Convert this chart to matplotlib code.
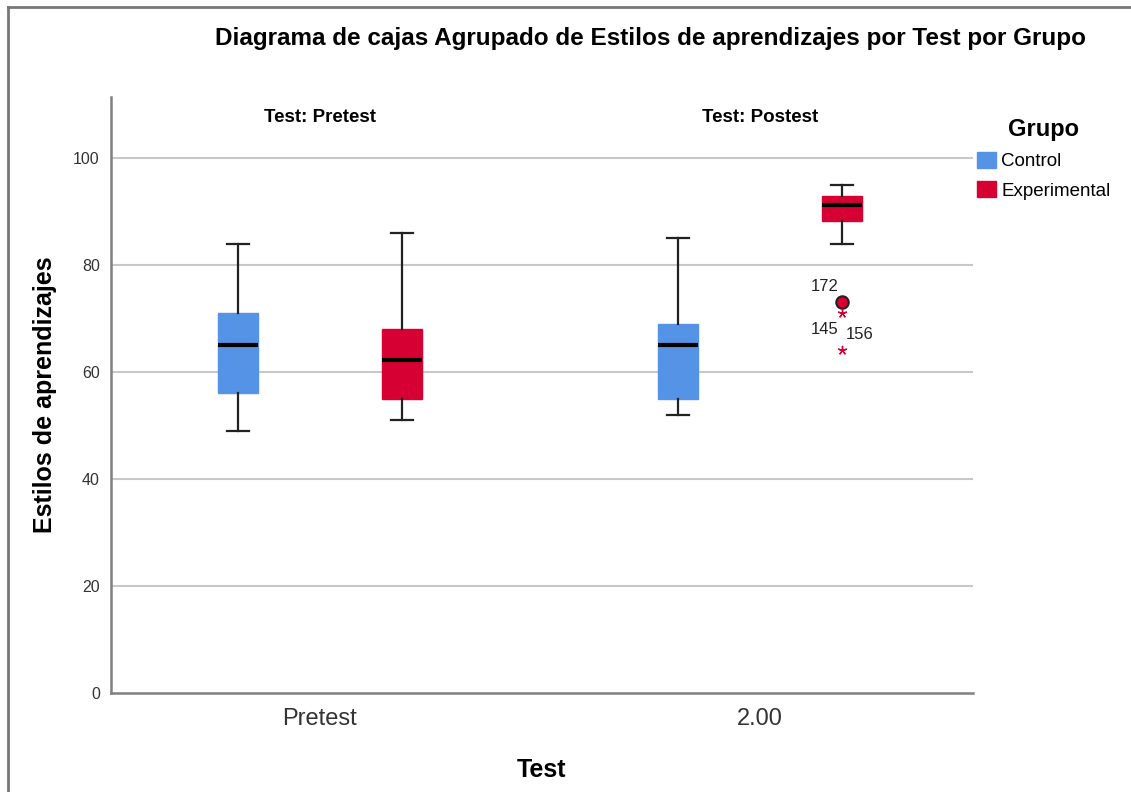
import matplotlib.pyplot as plt
from matplotlib.patches import Patch
from matplotlib.lines import Line2D

plt.rcParams['font.family'] = ['Liberation Sans', 'DejaVu Sans']

# ---------------- DATA ----------------
tests = ["Pretest", "2.00"]
facet_labels = ["Test: Pretest", "Test: Postest"]
groups = ["Control", "Experimental"]
colors = ["#5593E6", "#D60032"]

# [pretest, postest] for each group
whislo = {"Control": [49, 52], "Experimental": [51, 84]}
q1 = {"Control": [56, 55], "Experimental": [55, 88.2]}
med = {"Control": [65, 65], "Experimental": [62.2, 91.2]}
q3 = {"Control": [71, 69], "Experimental": [68, 92.9]}
whishi = {"Control": [84, 85], "Experimental": [86, 95]}

# outliers (experimental, postest)
out_circle = [73.1]
out_circle_ids = ["172"]
out_star = [71, 64.1]
out_star_ids = ["145", "156"]

yticks = [0, 20, 40, 60, 80, 100]

# ---------------- PLOT ----------------
fig = plt.figure(figsize=(11.31, 7.92), dpi=100)
ax = fig.add_axes([0.0981, 0.125, 0.762, 0.7525])

offset = 0.187
width = 0.091
for gi, g in enumerate(groups):
    stats = []
    for ti in range(len(tests)):
        stats.append({"whislo": whislo[g][ti], "q1": q1[g][ti], "med": med[g][ti],
                      "q3": q3[g][ti], "whishi": whishi[g][ti], "fliers": []})
    pos = [ti + (offset if gi else -offset) for ti in range(len(tests))]
    ax.bxp(stats, positions=pos, widths=width, patch_artist=True, showfliers=False,
           boxprops=dict(facecolor=colors[gi], edgecolor=colors[gi], linewidth=1),
           medianprops=dict(color="black", linewidth=3),
           whiskerprops=dict(color="#222222", linewidth=1.6),
           capprops=dict(color="#222222", linewidth=1.6),
           capwidths=width * 0.55, zorder=3)

xo = 1 + offset
ax.scatter([xo] * len(out_circle), out_circle, s=80, facecolor=colors[1],
           edgecolor="#222222", linewidth=1.5, zorder=4)
ax.scatter([xo] * len(out_star), out_star, s=35, marker=(5, 2, 0),
           color=colors[1], linewidth=1.0, zorder=4)
ax.text(xo - 0.04, out_circle[0] + 1.5, out_circle_ids[0], fontsize=12,
        ha="center", va="bottom", color="#222222")
ax.text(xo - 0.04, out_star[0] - 3.0, out_star_ids[0], fontsize=12,
        ha="center", va="center", color="#222222")
ax.text(xo + 0.04, out_star[0] - 4.0, out_star_ids[1], fontsize=12,
        ha="center", va="center", color="#222222")

ax.set_xlim(-0.475, 1.484)
ax.set_ylim(0, 111.4)
ax.set_yticks(yticks)
ax.set_xticks(range(len(tests)))
ax.set_xticklabels(tests, fontsize=17, color="#333333")
ax.tick_params(axis="y", labelsize=11.5, colors="#333333", length=0, pad=8)
ax.tick_params(axis="x", length=0, pad=11)
for yv in yticks[1:]:
    ax.axhline(yv, color="#C8C8C8", linewidth=1.5, zorder=1)

for s in ["top", "right"]:
    ax.spines[s].set_visible(False)
for s in ["left", "bottom"]:
    ax.spines[s].set_color("#808080")
    ax.spines[s].set_linewidth(1.8)

ax.set_ylabel("Estilos de aprendizajes", fontsize=18, fontweight="bold", labelpad=12)
ax.set_xlabel("Test", fontsize=18, fontweight="bold", labelpad=20)

for ti, lab in enumerate(facet_labels):
    ax.text(ti, 107.5, lab, fontsize=13.5, fontweight="bold", ha="center", va="center")

fig.text(0.575, 0.952, "Diagrama de cajas Agrupado de Estilos de aprendizajes por Test por Grupo",
         fontsize=17.5, fontweight="bold", ha="center", va="center")

handles = [Patch(facecolor=c, edgecolor=c) for c in colors]
leg = fig.legend(handles, groups, loc="upper left", bbox_to_anchor=(0.849, 0.872),
                 frameon=False, fontsize=13.5, title="Grupo", handlelength=1.0,
                 handleheight=1.0, handletextpad=0.3, labelspacing=0.55)
leg.get_title().set_fontsize(17)
leg.get_title().set_fontweight("bold")

# figure frame (left and top)
fig.add_artist(Line2D([0.0075, 0.0075], [0, 0.991], transform=fig.transFigure,
                      color="#777777", linewidth=2))
fig.add_artist(Line2D([0.0075, 1], [0.991, 0.991], transform=fig.transFigure,
                      color="#777777", linewidth=2))

fig.savefig("out.png", dpi=100)
